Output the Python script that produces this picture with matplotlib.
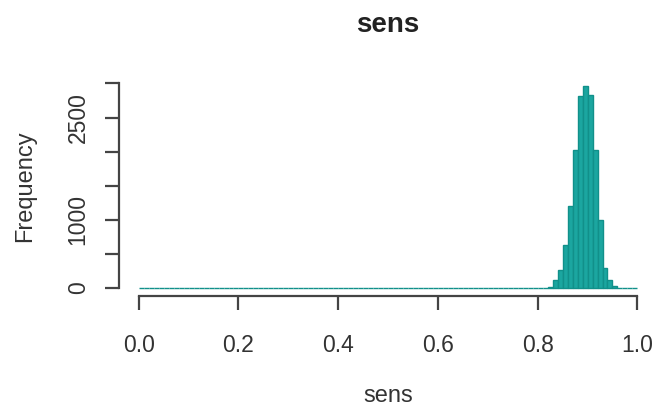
import numpy as np
import matplotlib
matplotlib.use('Agg')
import matplotlib.pyplot as plt

plt.rcParams['font.family'] = ['Liberation Sans', 'DejaVu Sans']

# histogram of sens, 100 bins of width 0.01 over [0, 1]
bin_edges = np.linspace(0, 1, 101)
counts = [0] * 82 + [20, 118, 265, 630, 1196, 2030, 2810, 2960, 2830, 2030,
                     1000, 300, 118, 30] + [0] * 4

y_ticks = [0, 500, 1000, 1500, 2000, 2500, 3000]
y_labels = ['0', '', '1000', '', '', '2500', '']
x_ticks = [0.0, 0.2, 0.4, 0.6, 0.8, 1.0]
x_labels = ['0.0', '0.2', '0.4', '0.6', '0.8', '1.0']

fig = plt.figure(figsize=(6.6, 4.09), dpi=100)
ax = fig.add_axes([0.180, 0.276, 0.816, 0.533])

ax.bar(bin_edges[:-1], counts, width=0.01, align='edge',
       color='#1ba6a0', edgecolor='#11908a', linewidth=1.0)

ax.set_xlim(-0.04, 1.04)
ax.set_ylim(-118, 3078)

for s in ['top', 'right']:
    ax.spines[s].set_visible(False)
ax.spines['left'].set_bounds(0, 3000)
ax.spines['bottom'].set_bounds(0, 1)
for s in ['left', 'bottom']:
    ax.spines[s].set_color('#444444')
    ax.spines[s].set_linewidth(1.6)

ax.set_yticks(y_ticks)
ax.set_yticklabels(y_labels, rotation=90, va='center')
ax.set_xticks(x_ticks)
ax.set_xticklabels(x_labels)
ax.tick_params(axis='both', length=10, width=1.6, color='#444444',
               labelsize=16.5, labelcolor='#333333')
ax.tick_params(axis='x', pad=17)
ax.tick_params(axis='y', pad=11)

fig.text(0.588, 0.938, 'sens', ha='center', va='center', fontsize=20,
         fontweight='bold', color='#222222')
fig.text(0.588, 0.032, 'sens', ha='center', va='center', fontsize=17,
         color='#333333')
fig.text(0.038, 0.545, 'Frequency', ha='center', va='center', fontsize=17,
         rotation=90, color='#333333')

fig.savefig('out.png', dpi=100)
